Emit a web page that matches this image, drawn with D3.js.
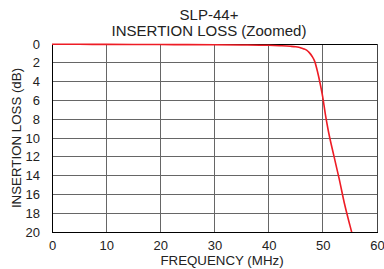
<!DOCTYPE html>
<html>
<head>
<meta charset="utf-8">
<script src="https://cdn.jsdelivr.net/npm/d3@7"></script>
<style>
  body { margin: 0; background: #fff; }
  text { font-family: "Liberation Sans", Arial, sans-serif; fill: #222; }
</style>
</head>
<body>
<div id="chart"></div>
<script>
const freq = [0, 5, 10, 15, 20, 25, 30, 35, 40, 42, 44, 45, 46, 46.5, 47, 47.5, 48, 48.5, 49, 49.5, 50, 50.5, 51, 52, 53, 54, 55, 55.5];
const loss = [0.02, 0.03, 0.04, 0.05, 0.06, 0.07, 0.08, 0.1, 0.14, 0.18, 0.24, 0.3, 0.42, 0.52, 0.66, 0.92, 1.3, 1.85, 2.9, 4.2, 5.7, 7.6, 9.2, 11.8, 14.3, 17.0, 19.3, 20.4];
const xTicks = [0, 10, 20, 30, 40, 50, 60];
const yTicks = [0, 2, 4, 6, 8, 10, 12, 14, 16, 18, 20];
const titleLines = ["SLP-44+", "INSERTION LOSS (Zoomed)"];

const width = 384, height = 269;
const margin = { top: 44, right: 7, bottom: 37, left: 52 };

const svg = d3.select("#chart").append("svg").attr("width", width).attr("height", height);

const x = d3.scaleLinear().domain([0, 60]).range([margin.left, width - margin.right]);
const y = d3.scaleLinear().domain([0, 20]).range([margin.top, height - margin.bottom]);

// grid
svg.append("g").selectAll("line").data(xTicks.slice(1, -1)).join("line")
  .attr("x1", d => x(d)).attr("x2", d => x(d))
  .attr("y1", y(0)).attr("y2", y(20))
  .attr("stroke", "#666").attr("stroke-width", 1).attr("shape-rendering", "crispEdges");
svg.append("g").selectAll("line").data(yTicks.slice(1, -1)).join("line")
  .attr("x1", x(0)).attr("x2", x(60))
  .attr("y1", d => y(d)).attr("y2", d => y(d))
  .attr("stroke", "#666").attr("stroke-width", 1).attr("shape-rendering", "crispEdges");

// frame
svg.append("line").attr("x1", x(60)).attr("x2", x(60)).attr("y1", y(0)).attr("y2", y(20))
  .attr("stroke", "#444").attr("shape-rendering", "crispEdges");
svg.append("line").attr("x1", x(0)).attr("x2", x(60)).attr("y1", y(0)).attr("y2", y(0))
  .attr("stroke", "#000").attr("shape-rendering", "crispEdges");

// axes
const xAxis = svg.append("g").attr("transform", `translate(0,${y(20)})`)
  .call(d3.axisBottom(x).tickValues(xTicks).tickSize(0).tickPadding(9));
const yAxis = svg.append("g").attr("transform", `translate(${x(0)},0)`)
  .call(d3.axisLeft(y).tickValues(yTicks).tickSize(0).tickPadding(12));
[xAxis, yAxis].forEach(a => {
  a.select(".domain").attr("stroke", "#000").attr("shape-rendering", "crispEdges");
  a.selectAll("text").attr("font-size", "13px").attr("fill", "#222")
    .attr("font-family", "'Liberation Sans', Arial, sans-serif");
});

// curve
const pts = freq.map((f, i) => ({ f, l: loss[i] }));
svg.append("clipPath").attr("id", "clip").append("rect")
  .attr("x", x(0)).attr("y", y(0) - 2).attr("width", x(60) - x(0)).attr("height", y(20) - y(0) + 2);
svg.append("path").datum(pts)
  .attr("clip-path", "url(#clip)")
  .attr("fill", "none").attr("stroke", "#ee1c25").attr("stroke-width", 1.6)
  .attr("d", d3.line().x(d => x(d.f)).y(d => y(d.l)).curve(d3.curveMonotoneX));

// titles
svg.selectAll(".title").data(titleLines).join("text")
  .attr("x", 209).attr("y", (d, i) => 20 + i * 16)
  .attr("text-anchor", "middle").attr("font-size", "15px").text(d => d);

svg.append("text").attr("x", 222).attr("y", 265).attr("text-anchor", "middle")
  .attr("font-size", "13.3px").text("FREQUENCY (MHz)");
svg.append("text").attr("transform", `translate(21,${(y(0) + y(20)) / 2}) rotate(-90)`)
  .attr("text-anchor", "middle").attr("font-size", "13.3px").text("INSERTION LOSS (dB)");
</script>
</body>
</html>
